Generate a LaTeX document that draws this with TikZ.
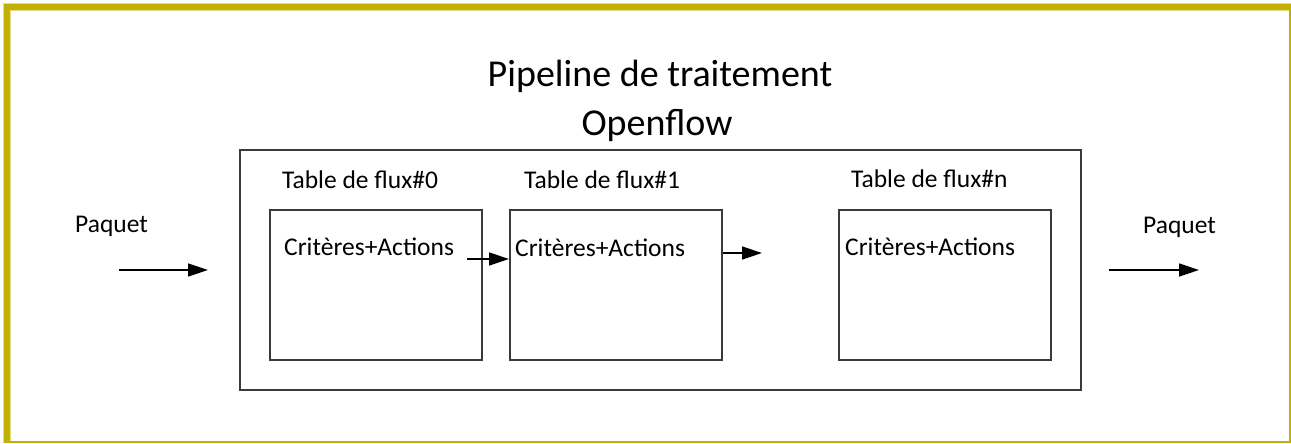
\documentclass[tikz,border=0pt]{standalone}
\usepackage{fontspec}
\setmainfont{Carlito}
\usetikzlibrary{arrows.meta}
\definecolor{framegold}{HTML}{C4B000}
\definecolor{boxgray}{HTML}{3A3A3A}
\tikzset{
  frame/.style={draw=boxgray, line width=1.7pt},
  label/.style={inner sep=0pt, anchor=base west, font=\fontsize{25.5}{30}\selectfont, text=black},
  titletext/.style={inner sep=0pt, anchor=base, font=\fontsize{38}{44}\selectfont, text=black},
  flow/.style={draw=black, line width=1.4pt, -{Triangle[length=20pt, width=13pt]}},
}
\begin{document}
\begin{tikzpicture}[x=1pt, y=-1pt]
  \useasboundingbox (0,0) rectangle (1291,444);
  % golden page frame: heavy on top and left, hairline on right and bottom
  \fill[framegold!45] (3,3) rectangle (1291,11);
  \fill[framegold!45] (3,3) rectangle (11,443);
  \fill[framegold] (4,4) rectangle (1291,10);
  \fill[framegold] (4,4) rectangle (10,442);
  \draw[framegold, line width=1.4pt] (1290,4) -- (1290,442) -- (4,442);

  % title
  \node[titletext] (title1) at (660,87) {Pipeline de traitement};
  \node[titletext] (title2) at (657,135) {Openflow};

  % pipeline container and flow tables
  \draw[frame] (240,150) rectangle (1081,390);
  \node[frame, minimum width=212pt, minimum height=150pt, anchor=north west, inner sep=0pt] (t0) at (269,209) {};
  \node[frame, minimum width=212pt, minimum height=150pt, anchor=north west, inner sep=0pt] (t1) at (509,209) {};
  \node[frame, minimum width=212pt, minimum height=150pt, anchor=north west, inner sep=0pt] (tn) at (838,209) {};

  \node[label] (h0) at (282,188) {Table de flux\#0};
  \node[label] (h1) at (524,188) {Table de flux\#1};
  \node[label] (hn) at (851,187) {Table de flux\#n};

  \node[label] (c0) at (284,255) {Critères+Actions};
  \node[label] (c1) at (515,256) {Critères+Actions};
  \node[label] (cn) at (845,255) {Critères+Actions};

  \node[label] (pin) at (75,232) {Paquet};
  \node[label] (pout) at (1143,233) {Paquet};

  % arrows
  \coordinate (inA) at (119,270);
  \coordinate (inB) at (208,270);
  \coordinate (outA) at (1109,270);
  \coordinate (outB) at (1199,270);
  \coordinate (m0) at (467,259);
  \coordinate (m1) at (762,253);
  \draw[flow] (inA) -- (inB);
  \draw[flow] (outA) -- (outB);
  \draw[flow] (m0) -- (t1.west |- m0);
  \draw[flow] (t1.east |- m1) -- (m1);
\end{tikzpicture}
\end{document}
